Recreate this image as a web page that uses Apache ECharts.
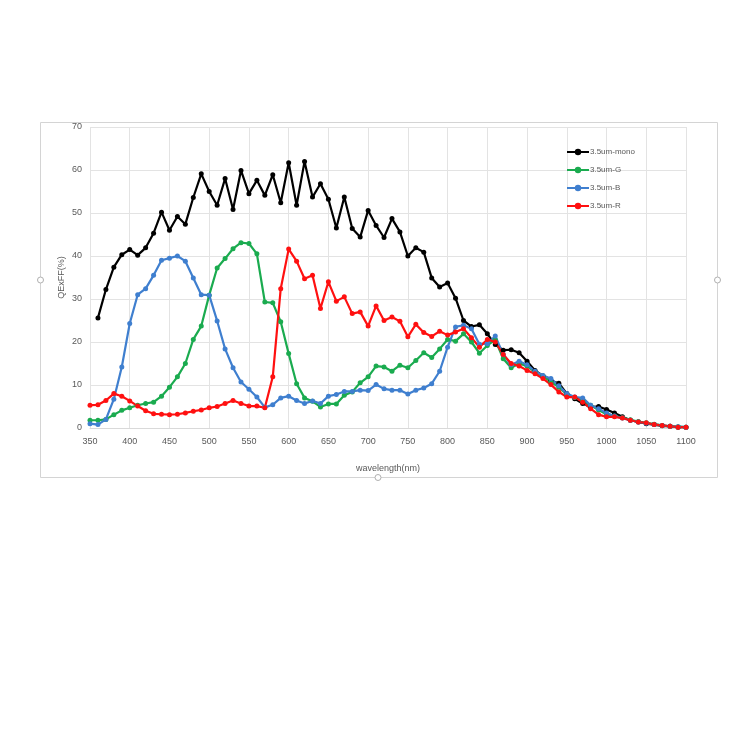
<!DOCTYPE html>
<html>
<head>
<meta charset="utf-8">
<script src="https://cdn.jsdelivr.net/npm/echarts@6/dist/echarts.min.js"></script>
<style>
html,body{margin:0;padding:0;background:#fff;}
#chart{width:750px;height:750px;}
</style>
</head>
<body>
<div id="chart"></div>
<script>
// wavelengths (nm)
var wlMono = [];
for (var w = 360; w <= 1100; w += 10) wlMono.push(w);
var wlColor = [];
for (var w2 = 350; w2 <= 1100; w2 += 10) wlColor.push(w2);

var seriesNames = ['3.5um-mono', '3.5um-G', '3.5um-B', '3.5um-R'];

// 3.5um-mono, 360..1100
var mono = [25.6,32.2,37.4,40.3,41.5,40.2,41.9,45.3,50.2,46.0,
  49.2,47.4,53.6,59.1,55.0,51.8,58.0,50.8,59.9,54.5,
  57.6,54.1,58.9,52.4,61.7,51.8,62.0,53.7,56.8,53.2,
  46.5,53.7,46.4,44.4,50.6,47.1,44.3,48.7,45.6,40.0,
  41.9,40.9,34.9,32.8,33.7,30.2,25.0,23.6,24.0,21.9,
  19.4,18.1,18.2,17.5,15.5,13.4,12.1,11.0,10.4,8.0,
  6.8,5.7,4.9,5.0,4.3,3.5,2.6,1.8,1.4,1.0,
  0.8,0.5,0.4,0.2,0.2];

// 3.5um-G, 350..1100
var green = [1.8,1.8,2.0,3.1,4.1,4.7,5.3,5.7,6.0,7.4,
  9.5,11.9,15.0,20.6,23.7,30.9,37.2,39.4,41.7,43.1,
  42.9,40.5,29.3,29.1,24.7,17.3,10.3,7.0,6.2,4.9,
  5.6,5.6,7.6,8.4,10.5,11.9,14.4,14.2,13.2,14.6,
  14.0,15.7,17.5,16.4,18.4,20.6,20.2,21.9,20.0,17.4,
  19.2,20.5,16.1,14.0,15.0,14.4,13.0,12.1,10.7,9.5,
  7.8,7.1,6.4,5.3,4.2,3.2,2.8,2.4,1.9,1.5,
  1.2,0.9,0.6,0.4,0.3,0.2];

// 3.5um-B, 350..1100
var blue = [1.0,0.8,2.0,6.7,14.2,24.3,31.0,32.4,35.5,39.0,
  39.5,40.0,38.8,34.9,31.0,30.9,24.9,18.4,14.0,10.7,
  9.0,7.2,4.8,5.4,7.0,7.4,6.4,5.7,6.3,5.7,
  7.4,7.8,8.5,8.5,8.8,8.7,10.1,9.1,8.8,8.8,
  7.9,8.8,9.3,10.3,13.2,18.8,23.5,23.9,23.1,19.5,
  19.6,21.4,17.1,14.7,15.5,14.7,13.2,12.2,11.5,9.8,
  8.0,7.2,7.0,5.3,4.5,3.5,2.8,2.3,1.8,1.4,
  1.1,0.8,0.6,0.4,0.3,0.2];

// 3.5um-R, 350..1100
var red = [5.3,5.4,6.4,8.0,7.4,6.3,5.1,4.0,3.3,3.2,
  3.1,3.2,3.5,3.9,4.2,4.7,5.0,5.7,6.4,5.7,
  5.1,5.1,4.7,11.9,32.4,41.6,38.8,34.7,35.5,27.8,
  34.0,29.5,30.5,26.6,27.0,23.7,28.4,25.0,25.8,24.8,
  21.2,24.1,22.2,21.3,22.5,21.6,22.3,23.1,21.0,18.8,
  20.6,20.0,17.1,15.0,14.4,13.4,12.6,11.5,10.1,8.4,
  7.2,7.2,6.0,4.5,3.1,2.6,2.6,2.3,1.8,1.4,
  1.2,0.8,0.6,0.4,0.2,0.2];

var colors = ['#000000', '#1aab4f', '#3f7fcf', '#ff1010'];

function pairs(xs, ys) {
  var out = [];
  for (var i = 0; i < ys.length; i++) out.push([xs[i], ys[i]]);
  return out;
}

var font = 'Liberation Sans';
var chart = echarts.init(document.getElementById('chart'), null, {renderer: 'canvas'});

function mk(name, xs, ys, color) {
  return {
    name: name, type: 'line', data: pairs(xs, ys),
    symbol: 'circle', symbolSize: 5, showSymbol: true,
    lineStyle: {color: color, width: 2.2},
    itemStyle: {color: color},
    emphasis: {disabled: true}, animation: false
  };
}

function handle(cx, cy) {
  return {
    type: 'circle', shape: {cx: cx, cy: cy, r: 3},
    style: {fill: '#ffffff', stroke: '#b0b0b0', lineWidth: 1}, silent: true, z: 10
  };
}

chart.setOption({
  animation: false,
  backgroundColor: '#ffffff',
  graphic: [{
    type: 'rect',
    shape: {x: 40.5, y: 122.5, width: 677, height: 355},
    style: {fill: 'none', stroke: '#d4d4d4', lineWidth: 1}, silent: true, z: -1
  }, handle(40.5, 280), handle(717.5, 280), handle(378, 477.5)],
  grid: {left: 90, right: 64, top: 127, bottom: 322},
  legend: {
    orient: 'vertical', left: 561, top: 143,
    itemWidth: 22, itemHeight: 8, itemGap: 10,
    data: seriesNames,
    textStyle: {fontFamily: font, fontSize: 8, color: '#595959', padding: [0, 0, 0, -4]}
  },
  xAxis: {
    type: 'value', min: 350, max: 1100, interval: 50,
    name: 'wavelength(nm)', nameLocation: 'middle', nameGap: 36,
    nameMoveOverlap: false,
    nameTextStyle: {fontFamily: font, fontSize: 9, color: '#595959'},
    axisLine: {show: true, lineStyle: {color: '#d9d9d9'}},
    axisTick: {show: false},
    axisLabel: {fontFamily: font, fontSize: 9, color: '#595959', margin: 9,
      formatter: function (v) { return String(v); }},
    splitLine: {show: true, lineStyle: {color: '#e3e3e3', width: 1}}
  },
  yAxis: {
    type: 'value', min: 0, max: 70, interval: 10,
    name: 'QExFF(%)', nameLocation: 'middle', nameGap: 24,
    nameMoveOverlap: false,
    nameTextStyle: {fontFamily: font, fontSize: 9, color: '#595959'},
    axisLine: {show: false}, axisTick: {show: false},
    axisLabel: {fontFamily: font, fontSize: 9, color: '#595959', margin: 8},
    splitLine: {show: true, lineStyle: {color: '#e3e3e3', width: 1}}
  },
  series: [
    mk(seriesNames[0], wlMono, mono, colors[0]),
    mk(seriesNames[1], wlColor, green, colors[1]),
    mk(seriesNames[2], wlColor, blue, colors[2]),
    mk(seriesNames[3], wlColor, red, colors[3])
  ]
});
</script>
</body>
</html>
